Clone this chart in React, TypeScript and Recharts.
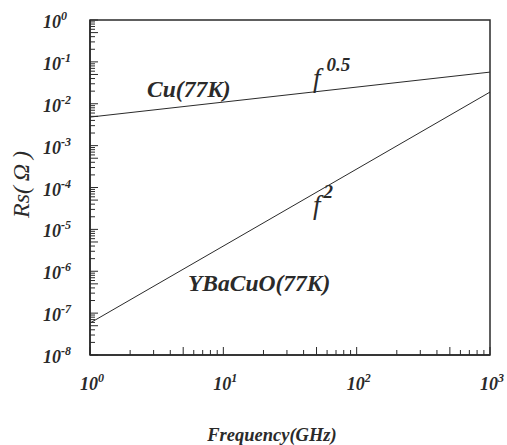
import React from "react";
import { LineChart, Line, XAxis, YAxis, ReferenceArea, ReferenceDot } from "recharts";

// Frequency (GHz) at the line end points
const freqGHz = [1, 1000];
// Surface resistance Rs (Ohm)
const rsCu = [4.8e-3, 5.7e-2];
const rsYBCO = [5.8e-8, 1.9e-2];

// Axis decade exponents and minor tick mantissas
const xTickExponents = [0, 1, 2, 3];
const yTickExponents = [-8, -7, -6, -5, -4, -3, -2, -1, 0];
const minorMantissas = [2, 3, 4, 5, 6, 7, 8, 9];

// Curve name annotations (anchor in data coordinates)
const nameLabels = ["Cu(77K)", "YBaCuO(77K)"];
const nameLabelFreq = [2.68, 5.43];
const nameLabelRs = [0.0145, 3.4e-7];

// Power-law annotations
const powerBase = ["f", "f"];
const powerExp = ["0.5", "2"];
const powerFreq = [47, 47];
const powerRs = [0.0252, 2.34e-5];

const FONT = "Liberation Serif";
const INK = "#2a2a2a";

const boldItalic = (size: number): React.CSSProperties => ({
  fontFamily: FONT,
  fontWeight: 700,
  fontStyle: "italic",
  fontSize: size,
});

const buildTicks = (exps: number[]) => {
  const out: number[] = [];
  exps.forEach((e, i) => {
    out.push(Math.pow(10, e));
    if (i < exps.length - 1) minorMantissas.forEach((m) => out.push(m * Math.pow(10, e)));
  });
  return out;
};
const xTicks = buildTicks(xTickExponents);
const yTicks = buildTicks(yTickExponents);

const tickInfo = (v: number) => {
  const lg = Math.log10(v);
  const e = Math.round(lg);
  const isDecade = Math.abs(lg - e) < 1e-9;
  const m = Math.round(v / Math.pow(10, Math.floor(lg + 1e-9)));
  return { isDecade, e, m };
};

const data = freqGHz.map((f, i) => ({ f, cu: rsCu[i], ybco: rsYBCO[i] }));

const XTick = (props: any) => {
  const { x, y, payload } = props;
  const { isDecade, e, m } = tickInfo(payload.value);
  const len = isDecade || m === 5 ? 8 : 5;
  return (
    <g>
      <line x1={x} y1={y} x2={x} y2={y - len} stroke={INK} strokeWidth={1} />
      {isDecade && (
        <text x={x - 10} y={y + 35} textAnchor="start" style={boldItalic(18)} fill={INK}>
          10
          <tspan dy={-8} style={{ fontSize: 12 }}>{String(e)}</tspan>
        </text>
      )}
    </g>
  );
};

const YTick = (props: any) => {
  const { x, y, payload } = props;
  const { isDecade, e, m } = tickInfo(payload.value);
  const len = isDecade || m === 5 ? 8 : 5;
  return (
    <g>
      <line x1={x} y1={y} x2={x + len} y2={y} stroke={INK} strokeWidth={1} />
      {isDecade && (
        <text x={x - 47} y={y + 8} textAnchor="start" style={boldItalic(18)} fill={INK}>
          10
          <tspan dy={-8} style={{ fontSize: 12 }}>{String(e)}</tspan>
        </text>
      )}
    </g>
  );
};

const NameShape = (text: string) => (props: any) => (
  <text x={props.cx} y={props.cy} style={boldItalic(23.5)} fill={INK}>
    {text}
  </text>
);

const PowerShape = (base: string, exp: string) => (props: any) => (
  <text x={props.cx} y={props.cy} style={{ fontFamily: FONT, fontStyle: "italic", fontSize: 27 }} fill={INK}>
    {base}
    <tspan dx={exp.length > 1 ? 6 : 3} dy={-16} style={{ fontSize: 19, fontWeight: 700 }}>{exp}</tspan>
  </text>
);

export default function App() {
  return (
    <div style={{ position: "absolute", left: 0, top: 0, background: "#fff" }}>
      <LineChart width={507} height={445} data={data} margin={{ top: 20, right: 17, bottom: 0, left: 0 }}>
        <XAxis
          dataKey="f"
          type="number"
          scale="log"
          domain={[1, 1000]}
          ticks={xTicks}
          interval={0}
          tickSize={0}
          tickMargin={0}
          tickLine={false}
          tick={<XTick />}
          height={90}
          axisLine={{ stroke: INK, strokeWidth: 1.5 }}
          allowDataOverflow
          label={{
            content: (p: any) => {
              const vb = p.viewBox;
              return (
                <text x={vb.x + vb.width / 2 - 18} y={vb.y + 86} textAnchor="middle" style={boldItalic(18.5)} fill={INK}>
                  Frequency(GHz)
                </text>
              );
            },
          }}
        />
        <YAxis
          type="number"
          scale="log"
          domain={[1e-8, 1]}
          ticks={yTicks}
          interval={0}
          tickSize={0}
          tickMargin={0}
          tickLine={false}
          tick={<YTick />}
          width={90}
          axisLine={{ stroke: INK, strokeWidth: 1.5 }}
          allowDataOverflow
          label={{
            content: (p: any) => {
              const vb = p.viewBox;
              const cx = vb.x + 21;
              const cy = vb.y + vb.height / 2 - 3;
              return (
                <text x={cx} y={cy} transform={`rotate(-90 ${cx} ${cy})`} textAnchor="middle" dominantBaseline="central" style={{ fontFamily: FONT, fontStyle: "italic", fontSize: 24 }} fill={INK}>
                  {"Rs(\u2009Ω\u2009)"}
                </text>
              );
            },
          }}
        />
        <ReferenceArea x1={1} x2={1000} y1={1e-8} y2={1} fill="none" stroke={INK} strokeWidth={1.5} />
        <Line type="linear" dataKey="cu" stroke={INK} strokeWidth={1} dot={false} isAnimationActive={false} />
        <Line type="linear" dataKey="ybco" stroke={INK} strokeWidth={1} dot={false} isAnimationActive={false} />
        {nameLabels.map((t, i) => (
          <ReferenceDot key={t} x={nameLabelFreq[i]} y={nameLabelRs[i]} r={1} shape={NameShape(t)} />
        ))}
        {powerBase.map((b, i) => (
          <ReferenceDot key={"p" + i} x={powerFreq[i]} y={powerRs[i]} r={1} shape={PowerShape(b, powerExp[i])} />
        ))}
      </LineChart>
    </div>
  );
}
